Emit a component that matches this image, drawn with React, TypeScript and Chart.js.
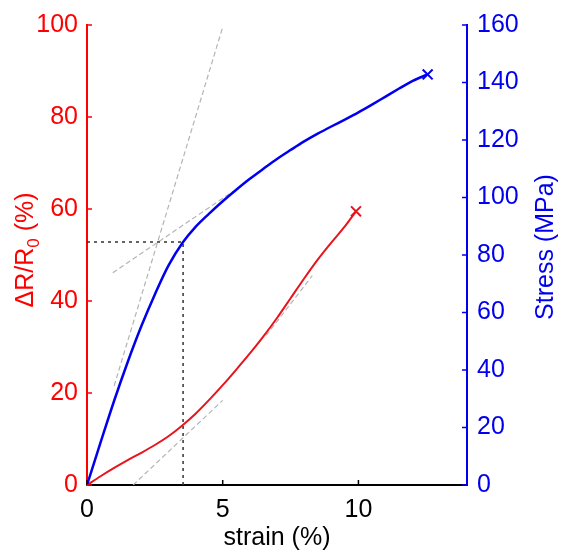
import React, { useEffect, useRef } from "react";
import { Chart, registerables } from "chart.js";

Chart.register(...registerables);

// ---- data ----
const strainStress = [0, 0.5, 1, 1.5, 2, 2.5, 3, 3.54, 4, 4.5, 5, 5.5, 6, 6.5, 7, 7.5, 8, 8.5, 9, 9.5, 10, 10.5, 11, 11.5, 12, 12.55];
const stressMPa = [0, 14.8, 29.3, 42.8, 55.2, 66.3, 76.3, 84.5, 89.8, 94.4, 98.7, 102.7, 106.5, 110, 113.4, 116.5, 119.5, 122.2, 124.7, 127.1, 129.6, 132.3, 135.1, 137.9, 140.6, 142.8];

const strainResist = [0, 0.5, 1, 1.5, 2, 2.5, 3, 3.5, 4, 4.5, 5, 5.5, 6, 6.5, 7, 7.5, 8, 8.5, 9, 9.5, 9.91];
const resistChange = [0, 1.9, 3.7, 5.4, 7.0, 8.7, 10.6, 12.9, 15.5, 18.5, 21.7, 25.1, 28.6, 32.3, 36.3, 40.6, 44.9, 49.0, 52.7, 56.2, 59.5];

// tangent (fit) lines
const elasticFitStrain = [1.0, 5.0];
const elasticFitStress = [34.5, 159.3];
const plasticFitStrain = [0.95, 5.4];
const plasticFitStress = [73.8, 102.3];
const lowFitStrain = [1.7, 5.0];
const lowFitResist = [0, 18.4];
const highFitStrain = [6.6, 8.3];
const highFitResist = [32.5, 45.5];

// yield marker (dashed guide)
const yieldStrain = 3.54;
const yieldResist = 52.8;

// ticks
const xTicks = [0, 5, 10];
const leftTicks = [0, 20, 40, 60, 80, 100];
const rightTicks = [0, 20, 40, 60, 80, 100, 120, 140, 160];

const FONT = "'Liberation Sans', Arial, Helvetica, sans-serif";
const RED = "#ff0000";
const RED_LINE = "#e8141c";
const BLUE = "#0000ee";
const GRAY = "#b4b4b4";

const zip = (xs: number[], ys: number[]) => xs.map((x, i) => ({ x, y: ys[i] }));

const decorPlugin = {
  id: "decor",
  afterDraw(chart: any) {
    const { ctx, chartArea: ca, scales } = chart;
    ctx.save();
    ctx.lineWidth = 1.5;
    // inward ticks
    ctx.strokeStyle = "#000";
    ctx.beginPath();
    for (const v of xTicks) {
      const px = scales.x.getPixelForValue(v);
      ctx.moveTo(px, ca.bottom);
      ctx.lineTo(px, ca.bottom - 5);
    }
    ctx.stroke();
    ctx.strokeStyle = RED;
    ctx.beginPath();
    for (const v of leftTicks) {
      const py = scales.y.getPixelForValue(v);
      ctx.moveTo(ca.left, py);
      ctx.lineTo(ca.left + 5, py);
    }
    ctx.stroke();
    ctx.strokeStyle = BLUE;
    ctx.beginPath();
    for (const v of rightTicks) {
      const py = scales.y1.getPixelForValue(v);
      ctx.moveTo(ca.right, py);
      ctx.lineTo(ca.right - 5, py);
    }
    ctx.stroke();

    // x title
    ctx.fillStyle = "#000";
    ctx.font = `25px ${FONT}`;
    ctx.textAlign = "center";
    ctx.textBaseline = "middle";
    ctx.fillText("strain (%)", (ca.left + ca.right) / 2, 538);

    // left title with subscript
    const mainF = `25px ${FONT}`;
    const subF = `17px ${FONT}`;
    ctx.font = mainF;
    const p1 = "\u0394R/R";
    const p3 = " (%)";
    const w1 = ctx.measureText(p1).width;
    const w3 = ctx.measureText(p3).width;
    ctx.font = subF;
    const w2 = ctx.measureText("0").width;
    const total = w1 + w2 + w3;
    ctx.save();
    ctx.translate(33, 250);
    ctx.rotate(-Math.PI / 2);
    ctx.fillStyle = RED;
    ctx.textAlign = "left";
    ctx.textBaseline = "alphabetic";
    ctx.font = mainF;
    ctx.fillText(p1, -total / 2, 0);
    ctx.font = subF;
    ctx.fillText("0", -total / 2 + w1, 6);
    ctx.font = mainF;
    ctx.fillText(p3, -total / 2 + w1 + w2, 0);
    ctx.restore();

    // right title
    ctx.save();
    ctx.translate(553, 247);
    ctx.rotate(-Math.PI / 2);
    ctx.fillStyle = BLUE;
    ctx.textAlign = "center";
    ctx.textBaseline = "alphabetic";
    ctx.font = mainF;
    ctx.fillText("Stress (MPa)", 0, 0);
    ctx.restore();

    ctx.restore();
  },
};

export default function App() {
  const ref = useRef<HTMLCanvasElement | null>(null);

  useEffect(() => {
    if (!ref.current) return;
    const lastIdx = (arr: number[]) => arr.map((_, i) => (i === arr.length - 1 ? 7 : 0));
    const chart = new Chart(ref.current, {
      type: "line",
      data: {
        datasets: [
          {
            label: "stress",
            data: zip(strainStress, stressMPa),
            yAxisID: "y1",
            borderColor: BLUE,
            borderWidth: 2.5,
            cubicInterpolationMode: "monotone",
            pointRadius: lastIdx(strainStress),
            pointStyle: "crossRot",
            pointBorderColor: BLUE,
            pointBorderWidth: 2,
            pointBackgroundColor: BLUE,
          },
          {
            label: "resistance",
            data: zip(strainResist, resistChange),
            yAxisID: "y",
            borderColor: RED_LINE,
            borderWidth: 2,
            cubicInterpolationMode: "monotone",
            pointRadius: lastIdx(strainResist),
            pointStyle: "crossRot",
            pointBorderColor: RED_LINE,
            pointBorderWidth: 2,
            pointBackgroundColor: RED_LINE,
          },
          {
            label: "yieldH",
            data: [
              { x: 0, y: yieldResist },
              { x: yieldStrain, y: yieldResist },
            ],
            yAxisID: "y",
            borderColor: "#333",
            borderWidth: 1.5,
            borderDash: [3, 4],
            pointRadius: 0,
          },
          {
            label: "yieldV",
            data: [
              { x: yieldStrain, y: 0 },
              { x: yieldStrain, y: yieldResist },
            ],
            yAxisID: "y",
            borderColor: "#333",
            borderWidth: 1.5,
            borderDash: [3, 4],
            pointRadius: 0,
          },
          {
            label: "elasticFit",
            data: zip(elasticFitStrain, elasticFitStress),
            yAxisID: "y1",
            borderColor: GRAY,
            borderWidth: 1.2,
            borderDash: [5, 3],
            pointRadius: 0,
          },
          {
            label: "plasticFit",
            data: zip(plasticFitStrain, plasticFitStress),
            yAxisID: "y1",
            borderColor: GRAY,
            borderWidth: 1.2,
            borderDash: [5, 3],
            pointRadius: 0,
          },
          {
            label: "lowFit",
            data: zip(lowFitStrain, lowFitResist),
            yAxisID: "y",
            borderColor: GRAY,
            borderWidth: 1.2,
            borderDash: [5, 3],
            pointRadius: 0,
          },
          {
            label: "highFit",
            data: zip(highFitStrain, highFitResist),
            yAxisID: "y",
            borderColor: GRAY,
            borderWidth: 1.2,
            borderDash: [5, 3],
            pointRadius: 0,
          },
        ],
      },
      options: {
        animation: false,
        responsive: false,
        maintainAspectRatio: false,
        devicePixelRatio: 1,
        layout: { padding: { top: 23, left: 0, right: 0, bottom: 0 } },
        plugins: { legend: { display: false }, tooltip: { enabled: false } },
        scales: {
          x: {
            type: "linear",
            min: 0,
            max: 14,
            afterBuildTicks: (s: any) => {
              s.ticks = xTicks.map((v) => ({ value: v }));
            },
            afterFit: (s: any) => {
              s.height = 71;
            },
            grid: { drawOnChartArea: false, drawTicks: false },
            border: { color: "#000", width: 2 },
            ticks: {
              color: "#000",
              padding: 10,
              maxRotation: 0,
              font: { family: FONT, size: 25 },
            },
          },
          y: {
            type: "linear",
            position: "left",
            min: 0,
            max: 100,
            afterBuildTicks: (s: any) => {
              s.ticks = leftTicks.map((v) => ({ value: v }));
            },
            afterFit: (s: any) => {
              s.width = 87;
            },
            grid: { drawOnChartArea: false, drawTicks: false },
            border: { color: RED, width: 2 },
            ticks: { color: RED, padding: 9, font: { family: FONT, size: 25 } },
          },
          y1: {
            type: "linear",
            position: "right",
            min: 0,
            max: 160,
            afterBuildTicks: (s: any) => {
              s.ticks = rightTicks.map((v) => ({ value: v }));
            },
            afterFit: (s: any) => {
              s.width = 100;
            },
            grid: { drawOnChartArea: false, drawTicks: false },
            border: { color: BLUE, width: 2 },
            ticks: { color: BLUE, padding: 10, font: { family: FONT, size: 25 } },
          },
        },
      },
      plugins: [decorPlugin],
    } as any);
    return () => chart.destroy();
  }, []);

  return (
    <div style={{ position: "fixed", left: 0, top: 0, width: 567, height: 556, background: "#fff" }}>
      <canvas ref={ref} width={567} height={556} style={{ width: 567, height: 556, display: "block" }} />
    </div>
  );
}
